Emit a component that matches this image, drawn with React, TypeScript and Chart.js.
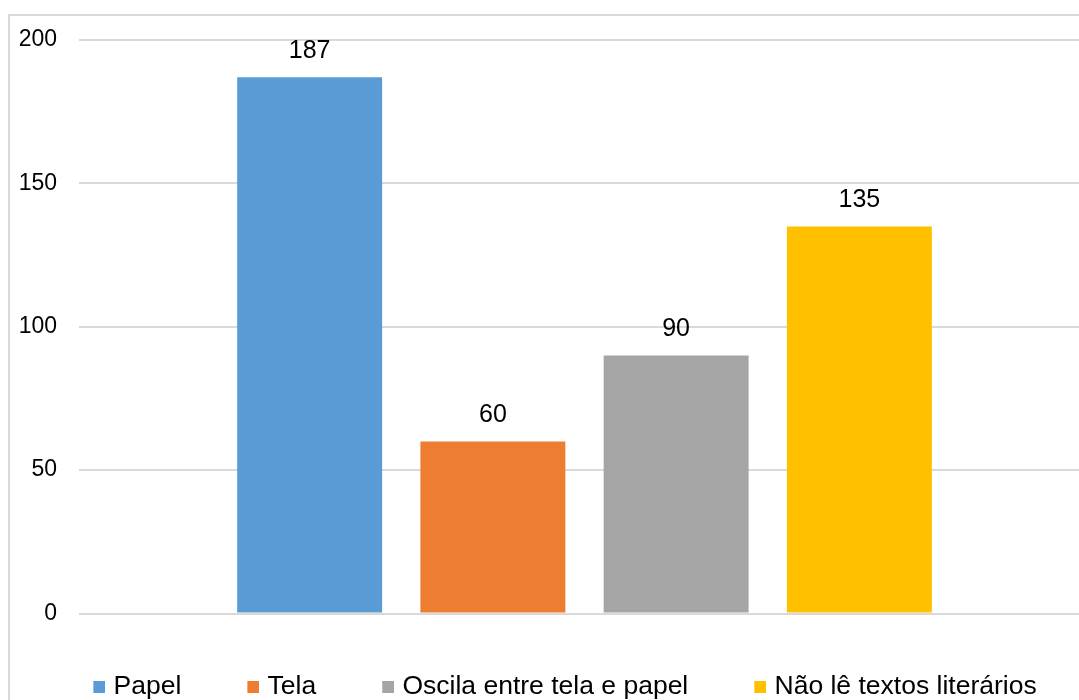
import React, { useEffect, useRef } from "react";
import { Chart, registerables } from "chart.js";

Chart.register(...registerables);

const categories = [""];
const seriesNames = ["Papel", "Tela", "Oscila entre tela e papel", "Não lê textos literários"];
const seriesValues = [187, 60, 90, 135];
const seriesColors = ["#5B9BD5", "#ED7D31", "#A5A5A5", "#FFC000"];
const yTicks = [0, 50, 100, 150, 200];

const FONT = "'Liberation Sans', Arial, sans-serif";
const LEGEND_FONT = 26.5;
const BOX_SLOT = 13;

const valueLabels = {
  id: "valueLabels",
  afterDatasetsDraw(chart: any) {
    const ctx = chart.ctx;
    ctx.save();
    ctx.font = `25px ${FONT}`;
    ctx.fillStyle = "#000000";
    ctx.textAlign = "center";
    ctx.textBaseline = "middle";
    chart.data.datasets.forEach((ds: any, i: number) => {
      const meta = chart.getDatasetMeta(i);
      meta.data.forEach((bar: any, j: number) => {
        ctx.fillText(String(ds.data[j]), bar.x, bar.y - 26);
      });
    });
    ctx.restore();
  },
};

function makeIcon(color: string) {
  // legend marker: 12px square placed at the right end of a slot image
  const c = document.createElement("canvas");
  const w = BOX_SLOT + 10;
  c.width = w;
  c.height = 12;
  const g = c.getContext("2d")!;
  g.fillStyle = color;
  g.fillRect(w - 12, 0, 12, 12);
  return c;
}

export default function App() {
  const ref = useRef<HTMLCanvasElement>(null);
  useEffect(() => {
    if (!ref.current) return;
    const icons = seriesColors.map(makeIcon);
    const chart = new Chart(ref.current, {
      type: "bar",
      data: {
        labels: categories,
        datasets: seriesNames.map((name, i) => ({
          label: name,
          data: [seriesValues[i]],
          backgroundColor: seriesColors[i],
          borderWidth: 0,
          categoryPercentage: 0.725,
          barPercentage: 0.791,
        })),
      },
      options: {
        animation: false,
        responsive: false,
        maintainAspectRatio: false,
        layout: { padding: { top: 24, left: 0, right: 0, bottom: 0 } },
        plugins: {
          tooltip: { enabled: false },
          legend: {
            position: "bottom",
            labels: {
              usePointStyle: true,
              pointStyleWidth: BOX_SLOT,
              boxHeight: 12,
              padding: 60,
              color: "#000000",
              font: { family: FONT, size: LEGEND_FONT },
              generateLabels(chart: any) {
                const base = (Chart.defaults as any).plugins.legend.labels.generateLabels(chart);
                return base.map((l: any, i: number) => ({ ...l, pointStyle: icons[i], lineWidth: 0 }));
              },
            },
          },
        },
        scales: {
          x: {
            display: false,
            afterFit(s: any) {
              s.paddingTop = 0; s.paddingBottom = 0; s.paddingLeft = 0; s.paddingRight = 0;
            },
          },
          y: {
            min: 0,
            max: 200,
            position: "left",
            afterBuildTicks(s: any) {
              s.ticks = yTicks.map((v) => ({ value: v }));
            },
            afterFit(s: any) {
              s.width = 69;
              s.paddingTop = 0; s.paddingBottom = 0;
            },
            border: { display: false },
            grid: { color: "#D9D9D9", lineWidth: 2, drawTicks: false },
            ticks: {
              padding: 22,
              color: "#000000",
              font: { family: FONT, size: 23 },
            },
          },
          yRight: {
            position: "right",
            display: true,
            min: 0,
            max: 200,
            grid: { display: false, drawTicks: false },
            border: { display: false },
            ticks: { display: false },
            afterFit(s: any) {
              s.width = 24;
              s.paddingTop = 0; s.paddingBottom = 0;
            },
          },
        },
      },
      plugins: [valueLabels],
    });
    return () => chart.destroy();
  }, []);

  return (
    <div style={{ position: "fixed", left: 0, top: 0, width: 1079, height: 700, overflow: "hidden", background: "#fff" }}>
      <div style={{ position: "absolute", left: 8, top: 14, border: "2px solid #D9D9D9", width: 1104, height: 700 }}>
        <canvas ref={ref} width={1104} height={694} style={{ display: "block" }} />
      </div>
    </div>
  );
}
